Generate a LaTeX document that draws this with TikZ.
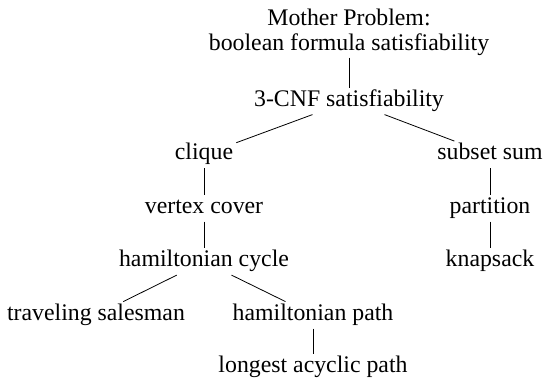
\documentclass[tikz,border=0pt]{standalone}
\usepackage{fontspec}
\setmainfont{Liberation Serif}
\usetikzlibrary{positioning, calc}

\begin{document}
\begin{tikzpicture}[
  node distance=53.5pt and 143pt,
  prob/.style={
    rectangle, on grid, inner xsep=3pt, inner ysep=2pt,
    text height=16.2pt, text depth=6.4pt,
    font=\fontsize{23.8}{25}\selectfont
  },
  rootprob/.style={
    rectangle, inner xsep=3pt, inner ysep=2pt, align=center,
    font=\fontsize{23.8}{25}\selectfont
  },
  link/.style={draw=black, line width=0.8pt}
]

% ── Mother problem ──
\node[prob] (cnf) {3-CNF satisfiability};
\node[rootprob, above=30pt of cnf] (mother) {Mother Problem:\\boolean formula satisfiability};

% ── Left branch ──
\node[prob, below left=53.5pt and 145pt of cnf] (clique) {clique};
\node[prob, below=of clique] (vertexcover) {vertex cover};
\node[prob, below=of vertexcover] (hamcycle) {hamiltonian cycle};
\node[prob, below left=53.5pt and 108pt of hamcycle] (salesman) {traveling salesman};
\node[prob, below right=53.5pt and 109pt of hamcycle] (hampath) {hamiltonian path};
\node[prob, below=52.5pt of hampath] (longest) {longest acyclic path};

% ── Right branch ──
\node[prob, below right=53.5pt and 141pt of cnf] (subsetsum) {subset sum};
\node[prob, below=of subsetsum] (partition) {partition};
\node[prob, below=of partition] (knapsack) {knapsack};

% ── Reductions ──
\draw[link] (mother) -- (cnf);
\draw[link] (cnf) -- (clique);
\draw[link] (cnf) -- (subsetsum);
\draw[link] (clique) -- (vertexcover);
\draw[link] (vertexcover) -- (hamcycle);
\draw[link] (hamcycle) -- (salesman);
\draw[link] (hamcycle) -- (hampath);
\draw[link] (hampath) -- (longest);
\draw[link] (subsetsum) -- (partition);
\draw[link] (partition) -- (knapsack);

\pgfresetboundingbox
\useasboundingbox ($(cnf.base)+(-349pt,106pt)$) rectangle ++(546pt,-381pt);

\end{tikzpicture}
\end{document}
